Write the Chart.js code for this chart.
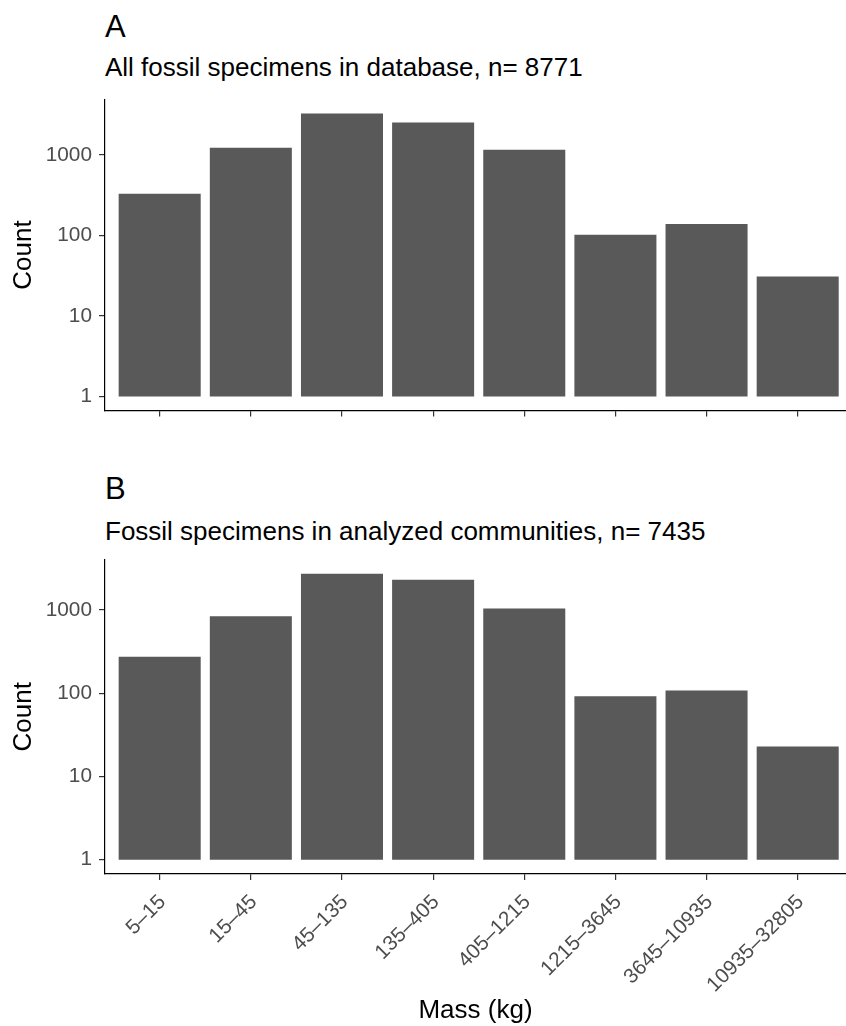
<!DOCTYPE html>
<html>
<head>
<meta charset="utf-8">
<title>Fossil specimens by mass</title>
<script src="https://cdn.jsdelivr.net/npm/chart.js"></script>
<style>
  html, body { margin: 0; padding: 0; background: #fff; overflow: hidden; }
  body { width: 846px; height: 1026px; position: relative; font-family: "Liberation Sans", Arial, sans-serif; color: #000; }
  .tag { position: absolute; left: 105px; font-size: 31px; line-height: 31px; white-space: nowrap; }
  .sub { position: absolute; left: 105px; font-size: 26px; line-height: 26px; white-space: nowrap; }
  canvas { position: absolute; left: 0; }
</style>
</head>
<body>
<div class="tag" style="top:11px">A</div>
<div class="sub" style="top:54px">All fossil specimens in database, n= 8771</div>
<canvas id="chartA" width="846" height="350" style="top:80px"></canvas>

<div class="tag" style="top:473px">B</div>
<div class="sub" style="top:518px">Fossil specimens in analyzed communities, n= 7435</div>
<canvas id="chartB" width="846" height="486" style="top:540px"></canvas>

<script>
// Mass bins (kg) and counts
const massBins = ['5–15', '15–45', '45–135', '135–405', '405–1215', '1215–3645', '3645–10935', '10935–32805'];
const countsAll = [330, 1230, 3275, 2545, 1164, 102, 139, 31];
const countsAnalyzed = [274, 841, 2731, 2317, 1048, 92, 108, 23];
const yTicks = [1, 10, 100, 1000];

const barColor = '#595959';
const tickTextColor = '#4D4D4D';
const fontFamily = '"Liberation Sans", Arial, sans-serif';

Chart.defaults.font.family = fontFamily;

// one panel = one chart; ggplot-like log y axis with 5% expansion
function makePanel(canvasId, counts, opts) {
    const lmax = Math.log10(Math.max(...counts));
    const pad = 0.05 * lmax;

    const gridOpts = {
        display: true,
        drawOnChartArea: false,
        drawTicks: true,
        offset: false,
        tickLength: 6,
        color: '#333333',
        lineWidth: 1.2
    };
    const borderOpts = { display: true, color: '#000000', width: 1.2 };

    return new Chart(document.getElementById(canvasId), {
        type: 'bar',
        data: {
            datasets: [{
                data: counts.map((v, i) => ({ x: i, y: [1, v] })),  // bars start at 1
                backgroundColor: barColor,
                borderWidth: 0,
                categoryPercentage: 1,
                barPercentage: 0.9
            }]
        },
        options: {
            responsive: false,
            animation: false,
            layout: { padding: { top: opts.padTop, left: 0, right: 0, bottom: 0 } },
            plugins: {
                legend: { display: false },
                tooltip: { enabled: false }
            },
            scales: {
                x: {
                    type: 'linear',
                    min: -0.6,
                    max: 7.53,
                    bounds: 'data',
                    offset: false,
                    grid: gridOpts,
                    border: borderOpts,
                    afterBuildTicks: (axis) => { axis.ticks = massBins.map((_, i) => ({ value: i })); },
                    afterFit: (axis) => { axis.height = opts.xHeight; },
                    ticks: {
                        display: opts.showLabels,
                        autoSkip: false,
                        minRotation: 45,
                        maxRotation: 45,
                        padding: 10,
                        labelOffset: 3,
                        color: tickTextColor,
                        font: { size: 20.8 },
                        callback: (v) => massBins[v]
                    },
                    title: {
                        display: opts.showLabels,
                        text: 'Mass (kg)',
                        color: '#000000',
                        font: { size: 26 },
                        padding: { top: 0, bottom: 0 }
                    }
                },
                y: {
                    type: 'logarithmic',
                    min: Math.pow(10, -pad),
                    max: Math.pow(10, lmax + pad),
                    bounds: 'data',
                    grid: gridOpts,
                    border: borderOpts,
                    afterBuildTicks: (axis) => { axis.ticks = yTicks.map(v => ({ value: v })); },
                    afterFit: (axis) => { axis.width = 105; },
                    ticks: {
                        padding: 7,
                        color: tickTextColor,
                        font: { size: 20.8 },
                        callback: (v) => String(v)
                    },
                    title: {
                        display: true,
                        text: 'Count',
                        color: '#000000',
                        font: { size: 26 },
                        padding: { top: 8, bottom: 0 }
                    }
                }
            }
        }
    });
}

makePanel('chartA', countsAll, { padTop: 15, xHeight: 17.7, showLabels: false });
makePanel('chartB', countsAnalyzed, { padTop: 16.6, xHeight: 152, showLabels: true });
</script>
</body>
</html>
